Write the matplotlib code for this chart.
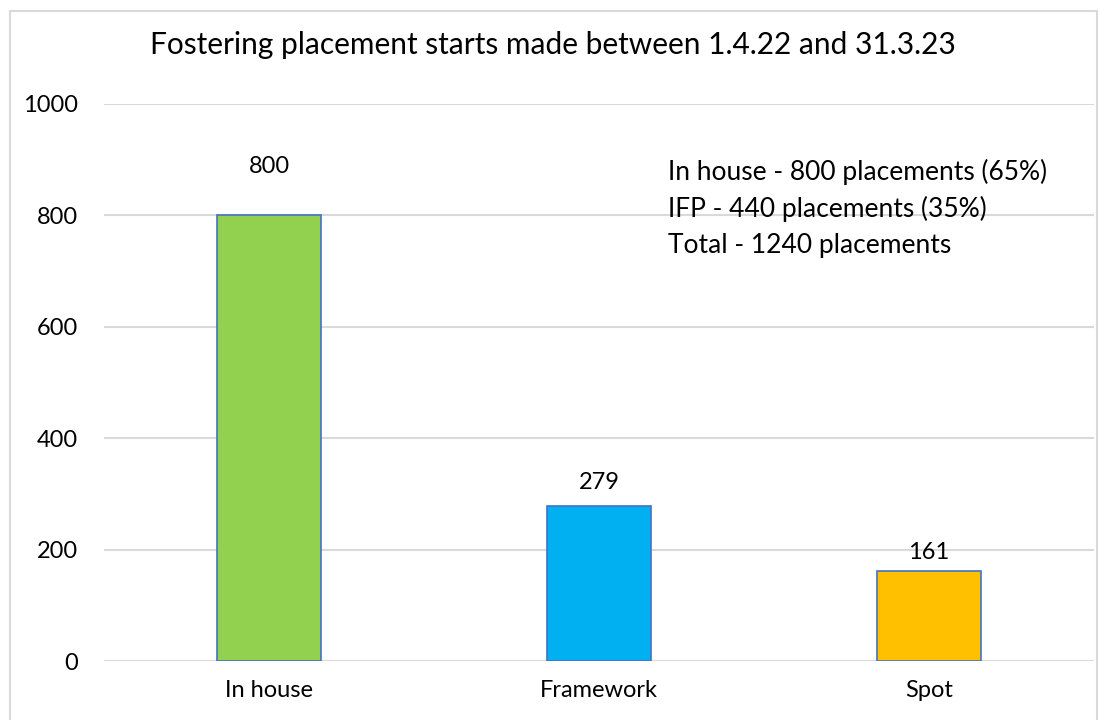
import matplotlib.pyplot as plt
from matplotlib.patches import Rectangle

categories = ["In house", "Framework", "Spot"]
placements = [800, 279, 161]
bar_colors = ["#92D050", "#00B0F0", "#FFC000"]
y_ticks = [0, 200, 400, 600, 800, 1000]
title = "Fostering placement starts made between 1.4.22 and 31.3.23"
note_lines = [
    "In house - 800 placements (65%)",
    "IFP - 440 placements (35%)",
    "Total - 1240 placements",
]

plt.rcParams["font.family"] = ["Lato", "DejaVu Sans"]

W, H = 1107, 720
fig = plt.figure(figsize=(W / 100, H / 100), dpi=100)

# chart area border
fig.patches.append(Rectangle((10 / W, -0.05), 1087 / W, 1.05 - 11 / H,
                             transform=fig.transFigure, fill=False,
                             edgecolor="#D9D9D9", linewidth=1.5))

# plot area: x 104..1094, y 104..661 (pixels from top)
ax = fig.add_axes([104 / W, 1 - 661 / H, 990 / W, 557 / H])

x = list(range(len(categories)))
bars = ax.bar(x, placements, width=0.315, color=bar_colors,
              edgecolor="#4472C4", linewidth=1.2, zorder=3)

# first label sits higher in the original
label_offsets = [28, 9, 6]
for xi, v, off in zip(x, placements, label_offsets):
    ax.annotate(str(v), (xi, v), xytext=(0, off), textcoords="offset points",
                ha="center", va="bottom", fontsize=17, color="#000000")

ax.set_xlim(-0.5, len(categories) - 0.5)
ax.set_ylim(0, 1000)
ax.set_yticks(y_ticks)
ax.set_xticks(x)
ax.set_xticklabels(categories)
ax.tick_params(axis="both", length=0, labelsize=17, colors="#000000")
ax.tick_params(axis="y", pad=19)
ax.tick_params(axis="x", pad=14)
ax.yaxis.grid(True, color="#D9D9D9", linewidth=1.5, zorder=0)
for s in ax.spines.values():
    s.set_visible(False)

fig.text(553 / W, 1 - 45 / H, title, ha="center", va="center", fontsize=21.5)

for i, line in enumerate(note_lines):
    fig.text(668 / W, 1 - (172 + 37 * i) / H, line, ha="left", va="center",
             fontsize=19)

fig.savefig("out.png", dpi=100)
